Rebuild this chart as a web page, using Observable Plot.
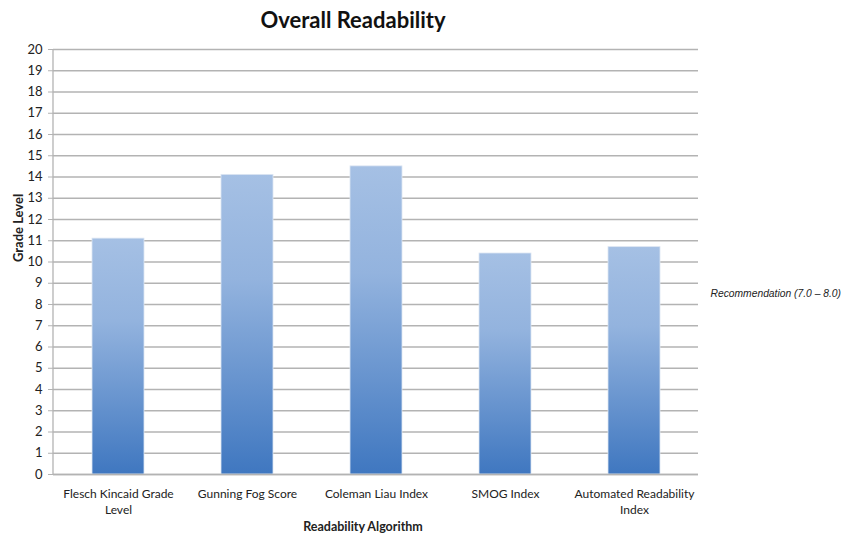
<!DOCTYPE html>
<html>
<head>
<meta charset="utf-8">
<script src="https://cdn.jsdelivr.net/npm/d3@7"></script>
<script src="https://cdn.jsdelivr.net/npm/@observablehq/plot@0.6"></script>
<style>
  html, body { margin: 0; padding: 0; background: #fff; }
  #chart svg { display: block; }
</style>
</head>
<body>
<div id="chart"></div>
<script>
const title = "Overall Readability";
const categories = ["Flesch Kincaid Grade Level", "Gunning Fog Score", "Coleman Liau Index", "SMOG Index", "Automated Readability Index"];
const tickLabels = ["Flesch Kincaid Grade\nLevel", "Gunning Fog Score", "Coleman Liau Index", "SMOG Index", "Automated Readability\nIndex"];
const grades = [11.1, 14.1, 14.5, 10.4, 10.7];
const yTicks = d3.range(0, 21);
const yLabel = "Grade Level";
const xLabel = "Readability Algorithm";
const annotations = [{label: "Recommendation (7.0 \u2013 8.0)", y: 8.5}];

const data = categories.map((c, i) => ({category: c, grade: grades[i]}));
const labelOf = new Map(categories.map((c, i) => [c, tickLabels[i]]));

const FONT = "Lato, 'Open Sans', sans-serif";
const GRID = "#b3b3b3";
const TEXT = "#222";
const NS = "http://www.w3.org/2000/svg";

function defsMark() {
  const g = document.createElementNS(NS, "g");
  g.innerHTML = `<defs><linearGradient id="barGrad" x1="0" y1="0" x2="0" y2="1">
    <stop offset="0" stop-color="#a5c0e4"/>
    <stop offset="0.35" stop-color="#93b3de"/>
    <stop offset="1" stop-color="#3f77c0"/>
  </linearGradient></defs>`;
  return g;
}

function leftAxisLine(index, scales, values, dims) {
  const l = document.createElementNS(NS, "line");
  l.setAttribute("x1", dims.marginLeft);
  l.setAttribute("x2", dims.marginLeft);
  l.setAttribute("y1", dims.marginTop);
  l.setAttribute("y2", dims.height - dims.marginBottom);
  l.setAttribute("stroke", GRID);
  l.setAttribute("stroke-width", 1.3);
  return l;
}

const chart = Plot.plot({
  width: 845,
  height: 537,
  marginLeft: 53,
  marginRight: 147,
  marginTop: 49,
  marginBottom: 63,
  style: {fontFamily: FONT, color: TEXT, background: "#fff"},
  x: {domain: categories, paddingInner: 0.6, paddingOuter: 0.3, label: null},
  y: {domain: [0, 20], label: null},
  marks: [
    defsMark,
    Plot.gridY(yTicks, {stroke: GRID, strokeOpacity: 1, strokeWidth: 1.3}),
    Plot.barY(data, {x: "category", y: "grade", fill: "url(#barGrad)", stroke: "#dde6f2", strokeWidth: 0.8}),
    Plot.ruleY([0], {stroke: GRID, strokeWidth: 1.3}),
    leftAxisLine,
    Plot.axisY(yTicks, {tickSize: 5, tickPadding: 6, stroke: GRID, fontSize: 13, fill: TEXT, label: null}),
    Plot.axisX({tickSize: 0, tickPadding: 12, fontSize: 12, fill: TEXT, lineHeight: 1.35, tickFormat: d => labelOf.get(d), label: null}),
    Plot.text([yLabel], {frameAnchor: "left", dx: -35, rotate: -90, fontSize: 13, fontWeight: "bold", fill: TEXT}),
    Plot.text([xLabel], {frameAnchor: "bottom", dy: 52, dx: -13, lineAnchor: "middle", fontSize: 12.5, fontWeight: "bold", fill: TEXT}),
    Plot.text([title], {frameAnchor: "top", dy: -29, dx: -23, lineAnchor: "middle", fontSize: 22, fontWeight: "bold", fill: "#111"}),
    Plot.text(annotations, {y: "y", text: "label", frameAnchor: "right", dx: 12, textAnchor: "start", fontSize: 10.3, fontStyle: "italic", fontFamily: "'Liberation Sans', Arial, sans-serif", fill: TEXT})
  ]
});
document.getElementById("chart").append(chart);
</script>
</body>
</html>
